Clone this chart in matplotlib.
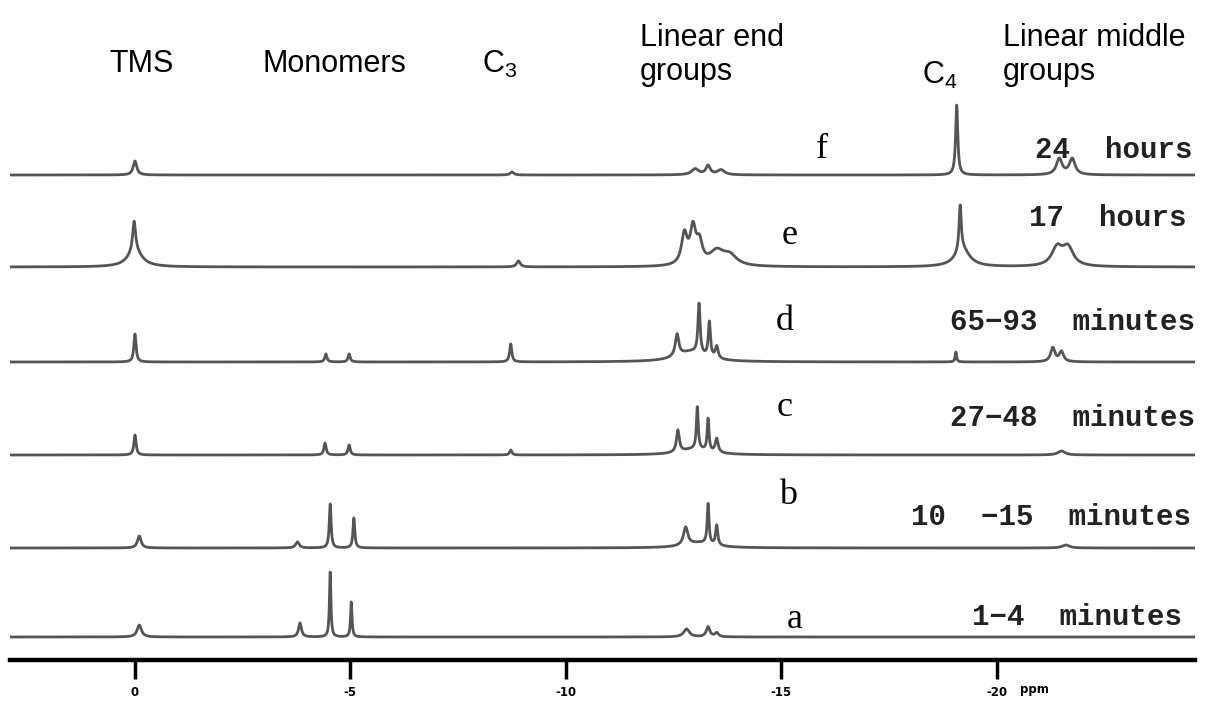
import numpy as np
import matplotlib
matplotlib.use("Agg")
import matplotlib.pyplot as plt

# ---- 數據: 各譜線峰位 (ppm)、峰高、半峰寬 ----
ppm_a = [-0.1, -3.83, -4.53, -5.02, -12.8, -13.3, -13.5]
hgt_a = [12, 14, 65, 35, 8, 10, 4]
wid_a = [0.06, 0.04, 0.02, 0.02, 0.08, 0.05, 0.05]

ppm_b = [-0.1, -3.77, -4.53, -5.08, -12.78, -13.1, -13.3, -13.5, -21.6]
hgt_b = [12, 6, 44, 30, 18, 5, 40, 20, 3]
wid_b = [0.05, 0.05, 0.025, 0.025, 0.06, 0.4, 0.025, 0.03, 0.1]

ppm_c = [0.0, -4.41, -4.97, -8.72, -12.6, -13.0, -13.05, -13.3, -13.5, -21.5]
hgt_c = [20, 12, 10, 5, 22, 6, 42, 32, 14, 4]
wid_c = [0.03, 0.03, 0.03, 0.03, 0.04, 0.4, 0.025, 0.025, 0.04, 0.1]

ppm_d = [0.0, -4.43, -4.97, -8.72, -12.58, -12.9, -13.09, -13.33, -13.5, -19.05, -21.3, -21.5]
hgt_d = [28, 8, 8, 18, 22, 10, 50, 35, 12, 10, 14, 10]
wid_d = [0.03, 0.03, 0.03, 0.03, 0.05, 0.4, 0.03, 0.03, 0.04, 0.02, 0.06, 0.06]

ppm_e = [0.02, 0.0, -8.9, -12.75, -12.95, -13.1, -13.5, -13.8, -19.15, -19.2, -21.4, -21.65]
hgt_e = [30, 16, 6, 30, 35, 20, 14, 10, 45, 18, 18, 18]
wid_e = [0.04, 0.2, 0.05, 0.08, 0.08, 0.08, 0.2, 0.2, 0.03, 0.2, 0.15, 0.15]

ppm_f = [0.0, -8.75, -13.0, -13.3, -13.6, -19.07, -21.45, -21.75]
hgt_f = [14, 3, 6, 9, 5, 70, 16, 16]
wid_f = [0.05, 0.05, 0.1, 0.06, 0.1, 0.03, 0.08, 0.08]

trace_names = ["a", "b", "c", "d", "e", "f"]
time_labels = ["1\u22124  minutes", "10  \u221215  minutes", "27\u221248  minutes",
               "65\u221293  minutes", "17  hours", "24  hours"]

tick_ppm = [0, -5, -10, -15, -20]
tick_labels = ["0", "-5", "-10", "-15", "-20"]

# ---- 版面 (像素座標換算) ----
offsets = [23, 112, 205, 298, 393, 485]
letter_pos = [(-15.31, 40), (-15.15, 165), (-15.08, 252),
              (-15.08, 338), (-15.2, 425), (-15.94, 510)]
time_pos = [(-24.3, 43), (-24.5, 143), (-24.6, 242),
            (-24.6, 338), (-24.4, 442), (-24.55, 510)]

peaks = [(ppm_a, hgt_a, wid_a), (ppm_b, hgt_b, wid_b), (ppm_c, hgt_c, wid_c),
         (ppm_d, hgt_d, wid_d), (ppm_e, hgt_e, wid_e), (ppm_f, hgt_f, wid_f)]


def spectrum(x, pos, hgt, wid):
    """Lorentzian 線形疊加"""
    y = np.zeros_like(x)
    for p, h, w in zip(pos, hgt, wid):
        y += h / (1 + ((x - p) / w) ** 2)
    return y


fig = plt.figure(figsize=(12.13, 7.02), dpi=100)
ax = fig.add_axes([10 / 1213, 42 / 702, 1185 / 1213, 660 / 702])

x = np.linspace(2.9, -24.6, 9000)
for (pos, hgt, wid), off in zip(peaks, offsets):
    ax.plot(x, off + spectrum(x, pos, hgt, wid), color="#555555", lw=2.0,
            solid_joinstyle="round")

for name, (lx, ly) in zip(trace_names, letter_pos):
    ax.text(lx, ly, name, family="Liberation Serif", fontsize=26,
            ha="center", va="center")

for lab, (tx, ty) in zip(time_labels, time_pos):
    ax.text(tx, ty, lab, family="Liberation Mono", fontweight="bold",
            fontsize=21, ha="right", va="center", color="#222222")

# 頂部標註
top_kw = dict(family="Liberation Sans", fontsize=22, va="center")
ax.text(-0.16, 596, "TMS", ha="center", **top_kw)
ax.text(-4.64, 596, "Monomers", ha="center", **top_kw)
ax.text(-8.47, 596, r"$\mathregular{C_3}$", ha="center", **top_kw)
ax.text(-11.72, 605, "Linear end\ngroups", ha="left", linespacing=1.15, **top_kw)
ax.text(-18.68, 585, r"$\mathregular{C_4}$", ha="center", **top_kw)
ax.text(-20.14, 605, "Linear middle\ngroups", ha="left", linespacing=1.15, **top_kw)

ax.set_xlim(2.9, -24.6)
ax.set_ylim(0, 660)
for s in ["top", "left", "right"]:
    ax.spines[s].set_visible(False)
ax.spines["bottom"].set_linewidth(3.2)
ax.set_yticks([])
ax.set_xticks(tick_ppm)
ax.set_xticklabels(tick_labels, fontweight="bold")
ax.tick_params(axis="x", direction="out", length=14, width=2.5, pad=5,
               labelsize=8.5)
ax.text(-20.55, -30, "ppm", fontsize=8.5, fontweight="bold", ha="left",
        va="center", clip_on=False)

fig.savefig("out.png", dpi=100, facecolor="white")
